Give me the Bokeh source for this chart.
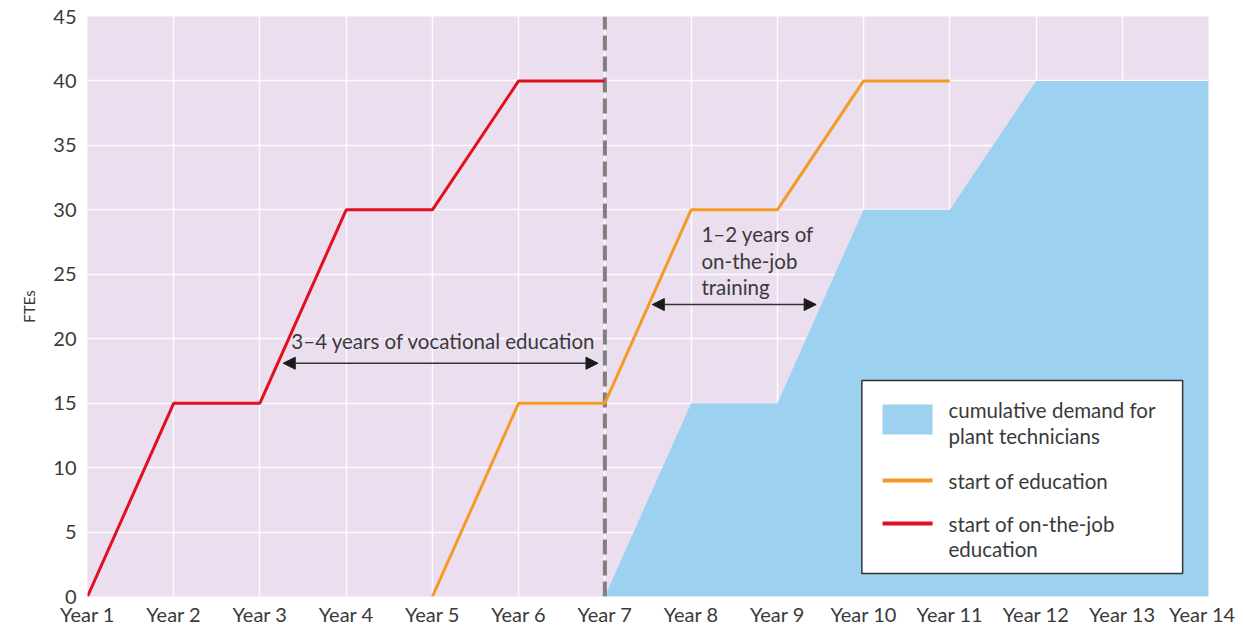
from bokeh.plotting import figure
from bokeh.models import Arrow, NormalHead, FixedTicker
from bokeh.core.properties import value
from bokeh.embed import file_html
from bokeh.resources import INLINE

# ---- data ----
years = ["Year 1", "Year 2", "Year 3", "Year 4", "Year 5", "Year 6", "Year 7",
         "Year 8", "Year 9", "Year 10", "Year 11", "Year 12", "Year 13", "Year 14"]
red_x = [0, 1, 2, 3, 4, 5, 6]
red_y = [0, 15, 15, 30, 30, 40, 40]
orange_x = [4, 5, 6, 7, 8, 9, 10]
orange_y = [0, 15, 15, 30, 30, 40, 40]
demand_x = [6, 7, 8, 9, 10, 11, 13]
demand_y = [0, 15, 15, 30, 30, 40, 40]
y_ticks = [0, 5, 10, 15, 20, 25, 30, 35, 40, 45]

FONT = "Lato"
TXT = "#3a3a3a"
RED = "#e2101e"
ORANGE = "#f49b27"
BLUE = "#9dd1f0"
BG = "#ebdeef"

p = figure(width=1235, height=631, x_range=(0, 13), y_range=(0, 45),
           output_backend="svg", toolbar_location=None,
           min_border_left=87, min_border_right=27, min_border_top=16, min_border_bottom=35)
p.background_fill_color = BG
p.border_fill_color = "white"
p.outline_line_color = None

p.xaxis.ticker = FixedTicker(ticks=list(range(len(years))))
p.xaxis.major_label_overrides = {i: y for i, y in enumerate(years)}
p.yaxis.ticker = FixedTicker(ticks=y_ticks)
for ax in (p.xaxis, p.yaxis):
    ax.axis_line_color = None
    ax.major_tick_line_color = None
    ax.minor_tick_line_color = None
    ax.major_tick_out = 0
    ax.major_tick_in = 0
    ax.minor_tick_out = 0
    ax.minor_tick_in = 0
    ax.major_label_text_font = FONT
    ax.major_label_text_font_size = "20px"
    ax.major_label_text_color = TXT
p.xaxis.major_label_standoff = 5
p.yaxis.major_label_standoff = 11
p.yaxis.axis_label = "FTEs"
p.yaxis.axis_label_text_font = FONT
p.yaxis.axis_label_text_font_style = "normal"
p.yaxis.axis_label_text_font_size = "15px"
p.yaxis.axis_label_text_color = TXT
p.yaxis.axis_label_standoff = 12

p.xgrid.ticker = FixedTicker(ticks=list(range(len(years))))
p.ygrid.ticker = FixedTicker(ticks=y_ticks)
p.grid.grid_line_color = "white"
p.grid.grid_line_width = 1.5
p.grid.grid_line_alpha = 0.9

# demand area
p.varea(x=demand_x, y1=[0] * len(demand_x), y2=demand_y, fill_color=BLUE)

# dashed vertical line at Year 7
p.segment(x0=[6], y0=[0], x1=[6], y1=[45], line_color="#7f7f7f",
          line_width=4, line_dash="15 6")

# lines
p.line(red_x, red_y, line_color=RED, line_width=3)
p.line(orange_x, orange_y, line_color=ORANGE, line_width=3)

# annotations: arrows
for (x0, x1, yy) in [(2.27, 5.92, 18.1), (6.55, 8.45, 22.65)]:
    p.add_layout(Arrow(start=NormalHead(size=12, fill_color="#1a1a1a", line_color="#1a1a1a"),
                       end=NormalHead(size=12, fill_color="#1a1a1a", line_color="#1a1a1a"),
                       x_start=x0, y_start=yy, x_end=x1, y_end=yy,
                       line_color="#333333", line_width=1.5))

p.text(x=[4.13], y=[19.8], text=["3–4 years of vocational education"],
       text_font=value(FONT), text_font_size="20.5px", text_color=TXT,
       text_align="center", text_baseline="middle")
p.text(x=[7.12, 7.12, 7.12], y=[28.16, 26.0, 24.0],
       text=["1–2 years of", "on-the-job", "training"],
       text_font=value(FONT), text_font_size="20.5px", text_color=TXT,
       text_align="left", text_baseline="middle")

# legend box (manual)
p.quad(left=[8.98], right=[12.70], bottom=[1.78], top=[16.76],
       fill_color="white", line_color="#333333", line_width=1.5)
p.quad(left=[9.22], right=[9.80], bottom=[12.57], top=[14.9],
       fill_color=BLUE, line_color=None)
p.segment(x0=[9.22, 9.22], y0=[9.0, 5.66], x1=[9.80, 9.80], y1=[9.0, 5.66],
          line_color=[ORANGE, RED], line_width=4)
p.text(x=[9.985] * 5, y=[14.5, 12.49, 9.0, 5.66, 3.72],
       text=["cumulative demand for", "plant technicians", "start of education",
             "start of on-the-job", "education"],
       text_font=value(FONT), text_font_size="20.5px", text_color=TXT,
       text_align="left", text_baseline="middle")

open("out.html", "w").write(file_html(p, INLINE))
